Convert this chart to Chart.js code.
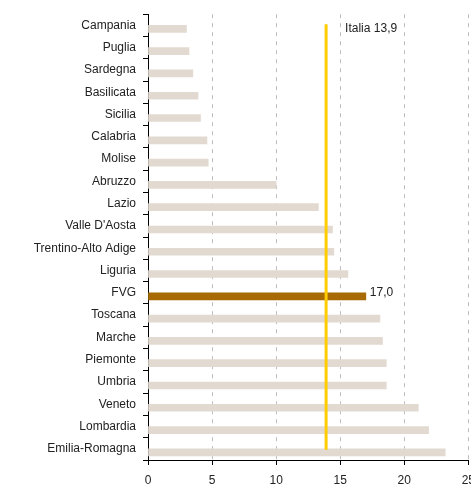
<!DOCTYPE html>
<html>
<head>
<meta charset="utf-8">
<script src="https://cdn.jsdelivr.net/npm/chart.js@4.4.0/dist/chart.umd.min.js"></script>
<style>
  html, body { margin: 0; padding: 0; background: #fff; overflow: hidden; }
  canvas { display: block; }
</style>
</head>
<body>
<canvas id="regioni" width="483" height="487"></canvas>
<script>
// regioni ordinate dal valore più basso al più alto
const regions = [
  'Campania', 'Puglia', 'Sardegna', 'Basilicata', 'Sicilia', 'Calabria', 'Molise',
  'Abruzzo', 'Lazio', "Valle D'Aosta", 'Trentino-Alto Adige', 'Liguria', 'FVG',
  'Toscana', 'Marche', 'Piemonte', 'Umbria', 'Veneto', 'Lombardia', 'Emilia-Romagna'
];
const values = [
  3.0, 3.2, 3.5, 3.9, 4.1, 4.6, 4.7,
  10.0, 13.3, 14.4, 14.5, 15.6, 17.0,
  18.1, 18.3, 18.6, 18.6, 21.1, 21.9, 23.2
];
const xTicks = [0, 5, 10, 15, 20, 25];
const italiaValue = 13.9;
const highlightRegion = 'FVG';

const fmt = (v) => v.toFixed(1).replace('.', ',');
const FONT = { family: 'Arial, "Liberation Sans", sans-serif', size: 12 };

// linea della media nazionale + etichette di valore
const overlay = {
  id: 'overlay',
  afterDatasetsDraw(chart) {
    const { ctx } = chart;
    const x = chart.scales.x;
    const y = chart.scales.y;
    const meta = chart.getDatasetMeta(1);

    ctx.save();
    // valore della regione evidenziata
    const hi = regions.indexOf(highlightRegion);
    const bar = meta.data[hi];
    ctx.font = '12px ' + FONT.family;
    ctx.fillStyle = '#222';
    ctx.textBaseline = 'middle';
    ctx.textAlign = 'left';
    ctx.fillText(fmt(values[hi]), bar.x + 4, y.getPixelForValue(hi));

    // media Italia
    const xi = x.getPixelForValue(italiaValue);
    ctx.strokeStyle = '#FFCC00';
    ctx.lineWidth = 3;
    ctx.beginPath();
    ctx.moveTo(xi, y.getPixelForValue(0) - 1);
    ctx.lineTo(xi, y.getPixelForValue(regions.length - 1) + 1);
    ctx.stroke();

    ctx.fillText('Italia ' + fmt(italiaValue), xi + 19, y.getPixelForValue(0) + 3);
    ctx.restore();
  }
};

new Chart(document.getElementById('regioni'), {
  type: 'bar',
  data: {
    labels: regions,
    datasets: [
      {
        // spazio vuoto sopra ogni barra
        data: regions.map(() => 0),
        backgroundColor: 'rgba(0,0,0,0)',
        barThickness: 7
      },
      {
        data: values,
        backgroundColor: regions.map(r => r === highlightRegion ? '#A86A05' : '#E2DAD0'),
        barThickness: 7
      }
    ]
  },
  options: {
    indexAxis: 'y',
    responsive: false,
    animation: false,
    layout: { padding: { top: 13, right: 0, left: 0, bottom: 0 } },
    plugins: {
      legend: { display: false },
      tooltip: { enabled: false }
    },
    scales: {
      x: {
        min: xTicks[0],
        max: xTicks[xTicks.length - 1],
        afterBuildTicks: (scale) => { scale.ticks = xTicks.map(v => ({ value: v })); },
        afterFit: (scale) => { scale.height = 27; },
        grid: {
          color: '#BDBDBD',
          tickColor: '#000',
          tickLength: 5,
          tickBorderDash: []
        },
        border: { color: '#000', width: 1, dash: [4, 5] },
        ticks: { color: '#222', font: FONT, padding: 8 }
      },
      y: {
        afterFit: (scale) => { scale.width = 148; },
        grid: {
          offset: true,
          drawOnChartArea: false,
          tickColor: '#000',
          tickLength: 5
        },
        border: { color: '#000', width: 1 },
        ticks: { color: '#222', font: FONT, padding: 7 }
      }
    }
  },
  plugins: [overlay]
});
</script>
</body>
</html>
